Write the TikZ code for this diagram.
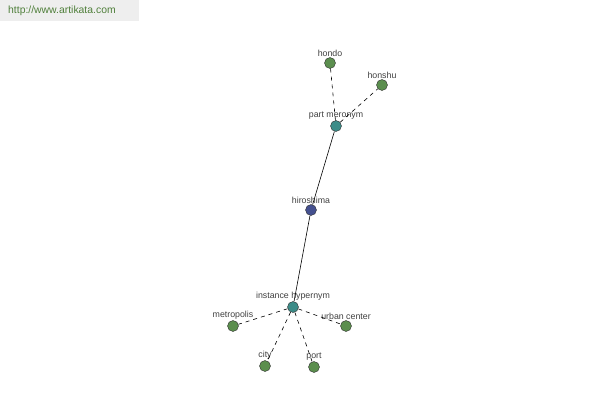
\documentclass[tikz,border=0pt]{standalone}
\usepackage{fontspec}
\setmainfont{Liberation Sans}
\usetikzlibrary{positioning}
\definecolor{leafgreen}{HTML}{5B8E4E}
\definecolor{relteal}{HTML}{3C8C88}
\definecolor{rootblue}{HTML}{44508F}
\definecolor{sitegreen}{HTML}{4F7F3A}
\definecolor{sitegray}{HTML}{EEEEEE}

\begin{document}
\begin{tikzpicture}[x=1pt, y=-1pt,
    every label/.style={font=\fontsize{8.8}{10}\selectfont, text=black!75, inner sep=1pt},
    word/.style={circle, draw=black!80, fill=leafgreen, minimum size=11pt, inner sep=0pt, label distance=0.5pt},
    relation/.style={word, fill=relteal},
    rootword/.style={word, fill=rootblue},
    link/.style={black, line width=0.6pt},
    weaklink/.style={black, line width=0.6pt, dash pattern=on 4pt off 4pt}]
    % Page size
    \useasboundingbox (0,0) rectangle (600,400);
    
    % Site banner
    \fill[sitegray] (0,0) rectangle (139,21);
    \node[anchor=west, text=sitegreen, font=\fontsize{10.4}{12}\selectfont, inner sep=0pt] (site) at (8,11) {http://www.artikata.com};
    
    % Words and relations
    \node[rootword, label=above:hiroshima] (hiroshima) at (311,210) {};
    \node[relation, label=above:part meronym] (partmer) at (336,126) {};
    \node[relation, label=above:instance hypernym] (insthyp) at (293,307) {};
    \node[word, label=above:hondo] (hondo) at (330,63) {};
    \node[word, label=above:honshu] (honshu) at (382,85) {};
    \node[word, label=above:metropolis] (metropolis) at (233,326) {};
    \node[word, label=above:urban center] (urban) at (346,326) {};
    \node[word, label=above:city] (city) at (265,366) {};
    \node[word, label=above:port] (port) at (314,367) {};
    
    % Links
    \draw[link] (hiroshima) -- (partmer);
    \draw[link] (hiroshima) -- (insthyp);
    \draw[weaklink] (partmer) -- (hondo);
    \draw[weaklink] (partmer) -- (honshu);
    \draw[weaklink] (insthyp) -- (metropolis);
    \draw[weaklink] (insthyp) -- (urban);
    \draw[weaklink] (insthyp) -- (city);
    \draw[weaklink] (insthyp) -- (port);
\end{tikzpicture}
\end{document}
